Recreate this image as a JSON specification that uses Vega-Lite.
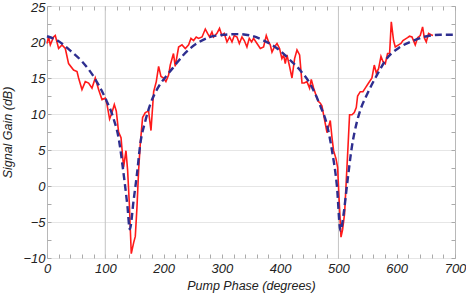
{
  "$schema": "https://vega.github.io/schema/vega-lite/v6.json",
  "width": 408,
  "height": 252,
  "autosize": "none",
  "padding": {"left": 47, "top": 6, "right": 11, "bottom": 35},
  "background": "white",
  "config": {
    "view": {"stroke": "#b8b8b8", "strokeWidth": 1},
    "axis": {
      "labelFont": "Liberation Sans", "labelFontStyle": "italic", "labelFontSize": 13, "labelColor": "#222",
      "titleFont": "Liberation Sans", "titleFontStyle": "italic", "titleFontSize": 12.5, "titleFontWeight": "normal", "titleColor": "#222",
      "gridColor": "#e6e6e6", "gridWidth": 1, "domain": false, "tickColor": "#aaa", "tickSize": -4, "labelOverlap": false
    }
  },
  "resolve": {"axis": {"x": "independent", "y": "independent"}},
  "datasets": {
    "meas": [
      {"phase": 0, "gain": 19.8}, {"phase": 2.7, "gain": 20.7}, {"phase": 5.7, "gain": 19.6}, {"phase": 11.3, "gain": 20.7},
      {"phase": 14.2, "gain": 20.9}, {"phase": 19.9, "gain": 19.1}, {"phase": 25.7, "gain": 19.6}, {"phase": 31.4, "gain": 19.1},
      {"phase": 37, "gain": 17.0}, {"phase": 45.6, "gain": 16.1}, {"phase": 51.5, "gain": 15.9}, {"phase": 54.2, "gain": 15.0},
      {"phase": 60, "gain": 13.4}, {"phase": 65.7, "gain": 14.5}, {"phase": 71.4, "gain": 14.3}, {"phase": 77.2, "gain": 13.6},
      {"phase": 82.8, "gain": 15.0}, {"phase": 88.5, "gain": 13.4}, {"phase": 94.4, "gain": 12.0}, {"phase": 100, "gain": 12.2},
      {"phase": 103, "gain": 11.3}, {"phase": 107.4, "gain": 9.3}, {"phase": 111.5, "gain": 10.2}, {"phase": 115.5, "gain": 11.3},
      {"phase": 118.9, "gain": 10.4}, {"phase": 122.8, "gain": 7.5}, {"phase": 127, "gain": 6.7}, {"phase": 131.4, "gain": 2.6},
      {"phase": 135.5, "gain": 4.9}, {"phase": 138.3, "gain": 2.2}, {"phase": 141.2, "gain": -2.4}, {"phase": 144.6, "gain": -9.4},
      {"phase": 148.6, "gain": -7.9}, {"phase": 151.5, "gain": -7.0}, {"phase": 154.4, "gain": -2.9}, {"phase": 157.2, "gain": 2.2},
      {"phase": 160, "gain": 5.8}, {"phase": 164, "gain": 9.5}, {"phase": 168.6, "gain": 10.2}, {"phase": 174.3, "gain": 10.4},
      {"phase": 178.4, "gain": 7.7}, {"phase": 183, "gain": 13.1}, {"phase": 187.5, "gain": 14.5}, {"phase": 191.5, "gain": 16.6},
      {"phase": 195.6, "gain": 15.2}, {"phase": 200, "gain": 15.0}, {"phase": 204, "gain": 14.5}, {"phase": 208.6, "gain": 15.4},
      {"phase": 211.5, "gain": 16.8}, {"phase": 217, "gain": 18.4}, {"phase": 220, "gain": 16.6}, {"phase": 225.8, "gain": 19.3},
      {"phase": 231.6, "gain": 19.6}, {"phase": 237.3, "gain": 19.1}, {"phase": 243, "gain": 19.6}, {"phase": 247, "gain": 20.5},
      {"phase": 251.5, "gain": 20.2}, {"phase": 256, "gain": 20.7}, {"phase": 260, "gain": 20.5}, {"phase": 266, "gain": 20.7},
      {"phase": 271.6, "gain": 21.8}, {"phase": 275.5, "gain": 21.2}, {"phase": 279, "gain": 20.7}, {"phase": 283, "gain": 21.4},
      {"phase": 285.8, "gain": 20.7}, {"phase": 291.6, "gain": 21.2}, {"phase": 296, "gain": 21.9}, {"phase": 300, "gain": 20.9},
      {"phase": 304, "gain": 21.2}, {"phase": 308.8, "gain": 20.0}, {"phase": 313.3, "gain": 20.7}, {"phase": 317.4, "gain": 20.0},
      {"phase": 321.3, "gain": 20.9}, {"phase": 326, "gain": 20.7}, {"phase": 330, "gain": 19.8}, {"phase": 334.5, "gain": 20.7},
      {"phase": 338.5, "gain": 20.2}, {"phase": 343, "gain": 19.3}, {"phase": 347, "gain": 20.5}, {"phase": 351, "gain": 20.0},
      {"phase": 354.4, "gain": 20.5}, {"phase": 360.3, "gain": 19.8}, {"phase": 366, "gain": 19.1}, {"phase": 371.6, "gain": 19.3},
      {"phase": 376.2, "gain": 20.9}, {"phase": 380.2, "gain": 20.0}, {"phase": 383, "gain": 19.6}, {"phase": 386, "gain": 18.6},
      {"phase": 390, "gain": 19.3}, {"phase": 394.6, "gain": 19.8}, {"phase": 399, "gain": 19.1}, {"phase": 403, "gain": 17.7},
      {"phase": 406, "gain": 18.2}, {"phase": 408.8, "gain": 17.0}, {"phase": 411.7, "gain": 18.2}, {"phase": 416.2, "gain": 16.6},
      {"phase": 420.3, "gain": 15.0}, {"phase": 424.8, "gain": 17.7}, {"phase": 428.9, "gain": 18.9}, {"phase": 433.4, "gain": 18.2},
      {"phase": 437.5, "gain": 14.3}, {"phase": 441.4, "gain": 14.3}, {"phase": 446, "gain": 14.5}, {"phase": 450.5, "gain": 13.6},
      {"phase": 453.4, "gain": 14.8}, {"phase": 457.4, "gain": 13.6}, {"phase": 462, "gain": 12.5}, {"phase": 465, "gain": 11.8},
      {"phase": 468.9, "gain": 11.5}, {"phase": 471.8, "gain": 11.1}, {"phase": 474.5, "gain": 9.9}, {"phase": 480.4, "gain": 7.4},
      {"phase": 486, "gain": 9.1}, {"phase": 489, "gain": 6.7}, {"phase": 491.7, "gain": 4.9}, {"phase": 495.8, "gain": 3.8},
      {"phase": 498.6, "gain": 2.6}, {"phase": 501.5, "gain": -2.4}, {"phase": 504.4, "gain": -7.1}, {"phase": 507.1, "gain": -6.1},
      {"phase": 510.6, "gain": -3.8}, {"phase": 513.5, "gain": 0.8}, {"phase": 516.4, "gain": 5.4}, {"phase": 519.1, "gain": 9.9},
      {"phase": 523.3, "gain": 9.9}, {"phase": 527.2, "gain": 10.2}, {"phase": 530.6, "gain": 10.9}, {"phase": 532.9, "gain": 12.5},
      {"phase": 537.5, "gain": 13.1}, {"phase": 542, "gain": 13.1}, {"phase": 546, "gain": 13.6}, {"phase": 551.7, "gain": 14.3},
      {"phase": 557.5, "gain": 15.0}, {"phase": 561.5, "gain": 16.8}, {"phase": 565, "gain": 15.7}, {"phase": 568.9, "gain": 16.3},
      {"phase": 573, "gain": 18.0}, {"phase": 576.4, "gain": 17.3}, {"phase": 580.4, "gain": 17.0}, {"phase": 584.3, "gain": 18.4},
      {"phase": 587.8, "gain": 18.4}, {"phase": 590.7, "gain": 22.8}, {"phase": 594.6, "gain": 20.2}, {"phase": 597.5, "gain": 19.3},
      {"phase": 603.2, "gain": 19.6}, {"phase": 607.3, "gain": 19.8}, {"phase": 610.7, "gain": 20.2}, {"phase": 614.6, "gain": 20.4},
      {"phase": 618.6, "gain": 20.6}, {"phase": 622, "gain": 20.8}, {"phase": 626.2, "gain": 20.7}, {"phase": 631.8, "gain": 19.6},
      {"phase": 635.8, "gain": 20.6}, {"phase": 640.4, "gain": 20.9}, {"phase": 644.4, "gain": 22.1}, {"phase": 647.3, "gain": 20.6},
      {"phase": 650.7, "gain": 20.0}, {"phase": 654.7, "gain": 21.2}, {"phase": 658.8, "gain": 21.0}, {"phase": 662.2, "gain": 20.9}
    ],
    "fit": [
      {"phase": 0, "gain": 20.8}, {"phase": 20, "gain": 20.1}, {"phase": 40, "gain": 18.8}, {"phase": 60, "gain": 17.3},
      {"phase": 80, "gain": 15.2}, {"phase": 100, "gain": 12.2}, {"phase": 114, "gain": 9.4}, {"phase": 123, "gain": 6.6},
      {"phase": 130, "gain": 2.6}, {"phase": 134, "gain": 0.0}, {"phase": 138, "gain": -2.8}, {"phase": 142, "gain": -6.0},
      {"phase": 148.6, "gain": -2.0}, {"phase": 154.4, "gain": 1.7}, {"phase": 160, "gain": 5.8}, {"phase": 168.6, "gain": 9.0},
      {"phase": 177, "gain": 11.3}, {"phase": 191.5, "gain": 13.8}, {"phase": 206, "gain": 15.4}, {"phase": 220, "gain": 16.8},
      {"phase": 234, "gain": 18.2}, {"phase": 257, "gain": 19.8}, {"phase": 280, "gain": 20.7}, {"phase": 303, "gain": 21.0},
      {"phase": 326, "gain": 21.1}, {"phase": 349, "gain": 20.9}, {"phase": 372, "gain": 20.2}, {"phase": 395, "gain": 19.1},
      {"phase": 417, "gain": 17.5}, {"phase": 434, "gain": 16.1}, {"phase": 452, "gain": 14.1}, {"phase": 469, "gain": 11.1},
      {"phase": 480, "gain": 8.6}, {"phase": 489, "gain": 4.9}, {"phase": 497.5, "gain": -0.1}, {"phase": 503.5, "gain": -6.2},
      {"phase": 509, "gain": -3.8}, {"phase": 515, "gain": 0.3}, {"phase": 523, "gain": 5.4}, {"phase": 532, "gain": 9.0},
      {"phase": 537, "gain": 10.4}, {"phase": 549, "gain": 12.7}, {"phase": 566, "gain": 15.4}, {"phase": 583, "gain": 17.7},
      {"phase": 606, "gain": 19.3}, {"phase": 629, "gain": 20.2}, {"phase": 652, "gain": 20.8}, {"phase": 675, "gain": 21.0},
      {"phase": 700, "gain": 21.0}
    ],
    "marks": [{"phase": 100}, {"phase": 500}]
  },
  "layer": [
    {
      "data": {"name": "marks"},
      "mark": {"type": "rule", "color": "#c4c4c4", "strokeWidth": 1},
      "encoding": {
        "x": {"field": "phase", "type": "quantitative", "scale": {"domain": [0, 700], "nice": false}, "axis": null}
      }
    },
    {
      "data": {"name": "meas"},
      "mark": {"type": "line", "color": "#ff1a1a", "strokeWidth": 1.6, "interpolate": "linear"},
      "encoding": {
        "x": {"field": "phase", "type": "quantitative", "scale": {"domain": [0, 700], "nice": false},
              "axis": {"title": "Pump Phase (degrees)",
                       "values": [0, 20, 40, 60, 80, 100, 120, 140, 160, 180, 200, 220, 240, 260, 280, 300, 320, 340, 360, 380, 400, 420, 440, 460, 480, 500, 520, 540, 560, 580, 600, 620, 640, 660, 680, 700],
                       "labelExpr": "datum.value % 100 === 0 ? datum.label : ''",
                       "gridOpacity": {"condition": {"test": "datum.value % 100 !== 0", "value": 0}, "value": 1},
                       "labelPadding": 8, "titlePadding": 4, "labelFlush": false}},
        "y": {"field": "gain", "type": "quantitative", "scale": {"domain": [-10, 25], "nice": false},
              "axis": {"title": "Signal Gain (dB)",
                       "values": [-10, -7.5, -5, -2.5, 0, 2.5, 5, 7.5, 10, 12.5, 15, 17.5, 20, 22.5, 25],
                       "labelExpr": "datum.value % 5 === 0 ? datum.label : ''",
                       "labelOffset": {"condition": {"test": "datum.value === 25", "value": 1.5}, "value": 0},
                       "gridOpacity": {"condition": {"test": "datum.value % 5 !== 0", "value": 0}, "value": 1},
                       "labelPadding": 6, "titlePadding": 8, "labelFlush": false}}
      }
    },
    {
      "data": {"name": "fit"},
      "mark": {"type": "line", "color": "#2e2e8f", "strokeWidth": 2.4, "strokeDash": [7, 4], "interpolate": "monotone"},
      "encoding": {
        "x": {"field": "phase", "type": "quantitative", "scale": {"domain": [0, 700], "nice": false},
              "axis": {"orient": "top", "title": null, "labels": false, "grid": false,
                       "values": [0, 20, 40, 60, 80, 100, 120, 140, 160, 180, 200, 220, 240, 260, 280, 300, 320, 340, 360, 380, 400, 420, 440, 460, 480, 500, 520, 540, 560, 580, 600, 620, 640, 660, 680, 700]}},
        "y": {"field": "gain", "type": "quantitative", "scale": {"domain": [-10, 25], "nice": false},
              "axis": {"orient": "right", "title": null, "labels": false, "grid": false,
                       "values": [-10, -7.5, -5, -2.5, 0, 2.5, 5, 7.5, 10, 12.5, 15, 17.5, 20, 22.5, 25]}}
      }
    }
  ]
}
